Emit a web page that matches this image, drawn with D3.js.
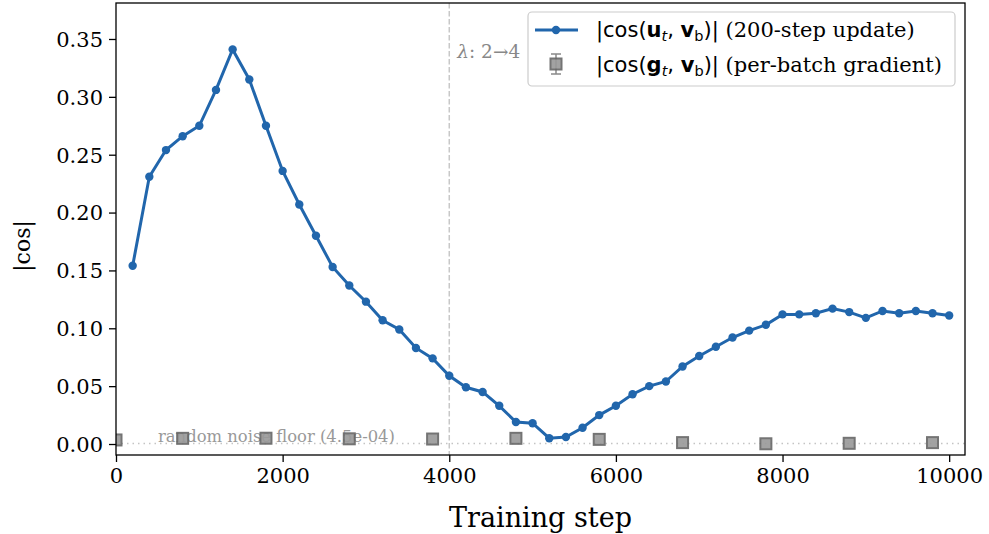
<!DOCTYPE html>
<html><head><meta charset="utf-8">
<script src="https://cdn.jsdelivr.net/npm/d3@7"></script>
<style>
body{margin:0;background:#fff;}
svg{display:block;}
text{font-family:"DejaVu Serif",serif;}
</style></head>
<body>
<svg id="chart" width="989" height="534"></svg>
<script>
// ---- data ----
const updateSteps = d3.range(200, 10001, 200);
const updateCos = [0.154,0.231,0.254,0.266,0.275,0.306,0.341,0.315,0.275,0.236,
  0.207,0.180,0.153,0.137,0.123,0.107,0.099,0.083,0.074,0.059,
  0.049,0.045,0.033,0.019,0.018,0.005,0.006,0.014,0.025,0.033,
  0.043,0.050,0.054,0.067,0.076,0.084,0.092,0.098,0.103,0.112,
  0.112,0.113,0.117,0.114,0.109,0.115,0.113,0.115,0.113,0.111];
const gradSteps = [0,800,1800,2800,3800,4800,5800,6800,7800,8800,9800];
const gradCos = [0.0035,0.0049,0.0050,0.0045,0.0043,0.0049,0.0040,0.0012,0.0002,0.0006,0.0012];
const noiseFloor = 4.5e-4;
const lambdaSwitch = 4000;
const xTicks = [0,2000,4000,6000,8000,10000];
const yTicks = [0,0.05,0.10,0.15,0.20,0.25,0.30,0.35];

// ---- layout ----
const L=116, R=965, T=3, B=455;
const blue="#2166ac";
const svg=d3.select("#chart");
const x=d3.scaleLinear().domain([0,10190]).range([L,R]);
const y=d3.scaleLinear().domain([-0.0095,0.3811]).range([B,T]);

svg.append("defs").append("clipPath").attr("id","clip")
  .append("rect").attr("x",L).attr("y",T).attr("width",R-L).attr("height",B-T);
const plot=svg.append("g").attr("clip-path","url(#clip)");

// vertical lambda line
plot.append("line").attr("x1",x(lambdaSwitch)).attr("x2",x(lambdaSwitch))
  .attr("y1",T).attr("y2",B).attr("stroke","#c8c8c8").attr("stroke-width",1.5)
  .attr("stroke-dasharray","5.5,2.5");
// noise floor
plot.append("line").attr("x1",L).attr("x2",R)
  .attr("y1",y(noiseFloor)).attr("y2",y(noiseFloor))
  .attr("stroke","#c4c4c4").attr("stroke-width",1.5).attr("stroke-dasharray","1.5,4");
plot.append("text").attr("x",158).attr("y",442).attr("fill","#999")
  .attr("font-size",16.4).text("random noise floor (4.5e-04)");
svg.append("text").attr("x",x(lambdaSwitch)+8).attr("y",58).attr("fill","#888")
  .attr("font-size",18.5)
  .html('<tspan font-style="italic">λ</tspan>: 2→4');

// blue line
const pts=updateSteps.map((s,i)=>[s,updateCos[i]]);
plot.append("path").datum(pts)
  .attr("d",d3.line().x(d=>x(d[0])).y(d=>y(d[1])))
  .attr("fill","none").attr("stroke",blue).attr("stroke-width",3);
plot.selectAll("circle.u").data(pts).join("circle").attr("class","u")
  .attr("cx",d=>x(d[0])).attr("cy",d=>y(d[1])).attr("r",4.2).attr("fill",blue);

// grey squares
const gpts=gradSteps.map((s,i)=>[s,gradCos[i]]);
plot.selectAll("rect.g").data(gpts).join("rect").attr("class","g")
  .attr("x",d=>x(d[0])-5.5).attr("y",d=>y(d[1])-5.5).attr("width",11).attr("height",11)
  .attr("fill","#999").attr("stroke","#666").attr("stroke-width",2).attr("opacity",0.9);

// axes
const xAxis=svg.append("g").attr("transform",`translate(0,${B})`)
  .call(d3.axisBottom(x).tickValues(xTicks).tickFormat(d3.format("d")).tickSizeOuter(0).tickSize(7).tickPadding(6));
const yAxis=svg.append("g").attr("transform",`translate(${L},0)`)
  .call(d3.axisLeft(y).tickValues(yTicks).tickFormat(d3.format(".2f")).tickSizeOuter(0).tickSize(7).tickPadding(6));
[xAxis,yAxis].forEach(a=>{
  a.select(".domain").remove();
  a.selectAll(".tick line").attr("stroke","#000").attr("stroke-width",1.3);
  a.selectAll("text").attr("font-size",21).attr("fill","#000").attr("font-family","DejaVu Serif");
});
yAxis.selectAll("text").attr("dy","0.35em");
// frame
svg.append("rect").attr("x",L).attr("y",T).attr("width",R-L).attr("height",B-T)
  .attr("fill","none").attr("stroke","#000").attr("stroke-width",1.3);

// axis labels
svg.append("text").attr("x",(L+R)/2).attr("y",527).attr("text-anchor","middle")
  .attr("font-size",27).text("Training step");
svg.append("text").attr("transform","translate(30,246) rotate(-90)").attr("text-anchor","middle")
  .attr("font-size",22).attr("font-family","DejaVu Sans").text("|cos|");

// legend
const lg=svg.append("g");
lg.append("rect").attr("x",528).attr("y",12).attr("width",427).attr("height",74).attr("rx",4)
  .attr("fill","#fff").attr("fill-opacity",0.85).attr("stroke","#ccc").attr("stroke-width",1.2);
lg.append("line").attr("x1",535).attr("x2",578).attr("y1",30).attr("y2",30)
  .attr("stroke",blue).attr("stroke-width",3);
lg.append("circle").attr("cx",556).attr("cy",30).attr("r",4.2).attr("fill",blue);
// errorbar symbol
lg.append("line").attr("x1",556).attr("x2",556).attr("y1",54).attr("y2",74).attr("stroke","#888").attr("stroke-width",1.5);
lg.append("line").attr("x1",551).attr("x2",561).attr("y1",54).attr("y2",54).attr("stroke","#888").attr("stroke-width",1.5);
lg.append("line").attr("x1",551).attr("x2",561).attr("y1",74).attr("y2",74).attr("stroke","#888").attr("stroke-width",1.5);
lg.append("rect").attr("x",550.5).attr("y",58.5).attr("width",11).attr("height",11)
  .attr("fill","#999").attr("stroke","#666").attr("stroke-width",2).attr("opacity",0.9);
const sans='font-family="DejaVu Sans"';
function legendLabel(vec, rest){
  return `<tspan ${sans}>|cos(</tspan><tspan ${sans} font-weight="bold">${vec}</tspan><tspan ${sans} font-style="italic" font-size="14.5" dy="4">t</tspan><tspan ${sans} dy="-4">, </tspan><tspan ${sans} font-weight="bold">v</tspan><tspan ${sans} font-size="14.5" dy="4">b</tspan><tspan ${sans} dy="-4">)|</tspan> ${rest}`;
}
lg.append("text").attr("x",596).attr("y",37).attr("font-size",21)
  .html(legendLabel("u","(200-step update)"));
lg.append("text").attr("x",596).attr("y",72).attr("font-size",21)
  .html(legendLabel("g","(per-batch gradient)"));
</script>
</body></html>
